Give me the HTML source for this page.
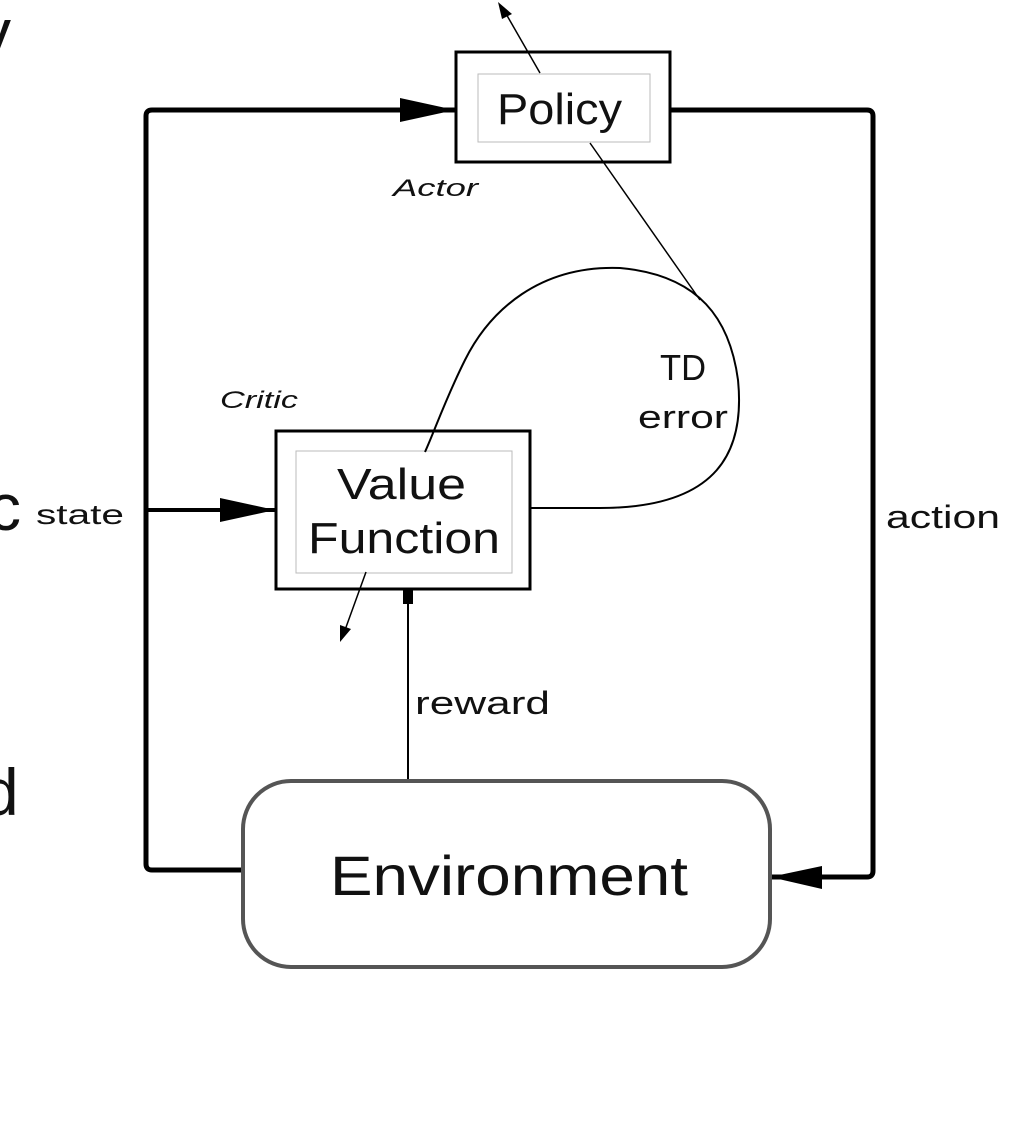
<!DOCTYPE html>
<html><head><meta charset="utf-8"><style>
html,body{margin:0;padding:0;background:#fff;width:1024px;height:1143px;overflow:hidden}
svg{display:block}
text{font-family:"Liberation Sans",sans-serif;fill:#111}
</style></head><body>
<svg width="1024" height="1143" viewBox="0 0 1024 1143" xmlns="http://www.w3.org/2000/svg">
<text x="-22" y="55" font-size="66">y</text>
<text x="-12" y="530" font-size="66">c</text>
<text x="-18" y="815" font-size="66">d</text>

<g fill="none" stroke="#000" stroke-width="5" stroke-linejoin="round">
<path d="M455,110 H152 Q146,110 146,116 V864 Q146,870 152,870 H243"/>
<path d="M670,110 H867 Q873,110 873,116 V871 Q873,877 867,877 H770"/>
<path d="M146,510 H275" stroke-width="4"/>
</g>
<polygon points="400,98 455,110 400,122" fill="#000"/>
<polygon points="220,498 275,510 220,522" fill="#000"/>
<polygon points="822,866 770,877 822,889" fill="#000"/>

<line x1="408" y1="780" x2="408" y2="592" stroke="#000" stroke-width="2"/>
<rect x="403" y="590" width="10" height="14" fill="#000"/>

<rect x="456" y="52" width="214" height="110" fill="#fff" stroke="#000" stroke-width="3"/>
<rect x="478" y="74" width="172" height="68" fill="none" stroke="#bbb" stroke-width="1"/>
<text x="497" y="124" font-size="44" textLength="125" lengthAdjust="spacingAndGlyphs">Policy</text>

<rect x="276" y="431" width="254" height="158" fill="#fff" stroke="#000" stroke-width="3"/>
<rect x="296" y="451" width="216" height="122" fill="none" stroke="#bbb" stroke-width="1"/>
<text x="337" y="499" font-size="44" textLength="129" lengthAdjust="spacingAndGlyphs">Value</text>
<text x="308" y="553" font-size="44" textLength="192" lengthAdjust="spacingAndGlyphs">Function</text>

<rect x="243" y="781" width="527" height="186" rx="48" fill="#fff" stroke="#555" stroke-width="4"/>
<text x="330" y="895" font-size="56" textLength="358" lengthAdjust="spacingAndGlyphs">Environment</text>

<path d="M530,508 H600 C720,508 745,450 738,380 C730,320 700,275 620,268 C540,265 490,310 465,360 C445,400 435,430 425,452" fill="none" stroke="#000" stroke-width="2"/>
<line x1="590" y1="143" x2="700" y2="300" stroke="#000" stroke-width="1.5"/>
<line x1="540" y1="73" x2="505" y2="12" stroke="#000" stroke-width="1.5"/>
<polygon points="498,2 512,14 502,19" fill="#000"/>
<line x1="366" y1="572" x2="345" y2="630" stroke="#000" stroke-width="1.5"/>
<polygon points="340,642 340,625 351,629" fill="#000"/>

<text x="393" y="196" font-size="24" font-style="italic" fill="#333" textLength="85" lengthAdjust="spacingAndGlyphs">Actor</text>
<text x="220" y="408" font-size="24" font-style="italic" fill="#333" textLength="78" lengthAdjust="spacingAndGlyphs">Critic</text>
<text x="660" y="380" font-size="36" textLength="46" lengthAdjust="spacingAndGlyphs">TD</text>
<text x="638" y="428" font-size="32" textLength="90" lengthAdjust="spacingAndGlyphs">error</text>
<text x="36" y="524" font-size="28" textLength="88" lengthAdjust="spacingAndGlyphs">state</text>
<text x="886" y="528" font-size="32" textLength="114" lengthAdjust="spacingAndGlyphs">action</text>
<text x="415" y="714" font-size="32" textLength="135" lengthAdjust="spacingAndGlyphs">reward</text>
</svg>
</body></html>
